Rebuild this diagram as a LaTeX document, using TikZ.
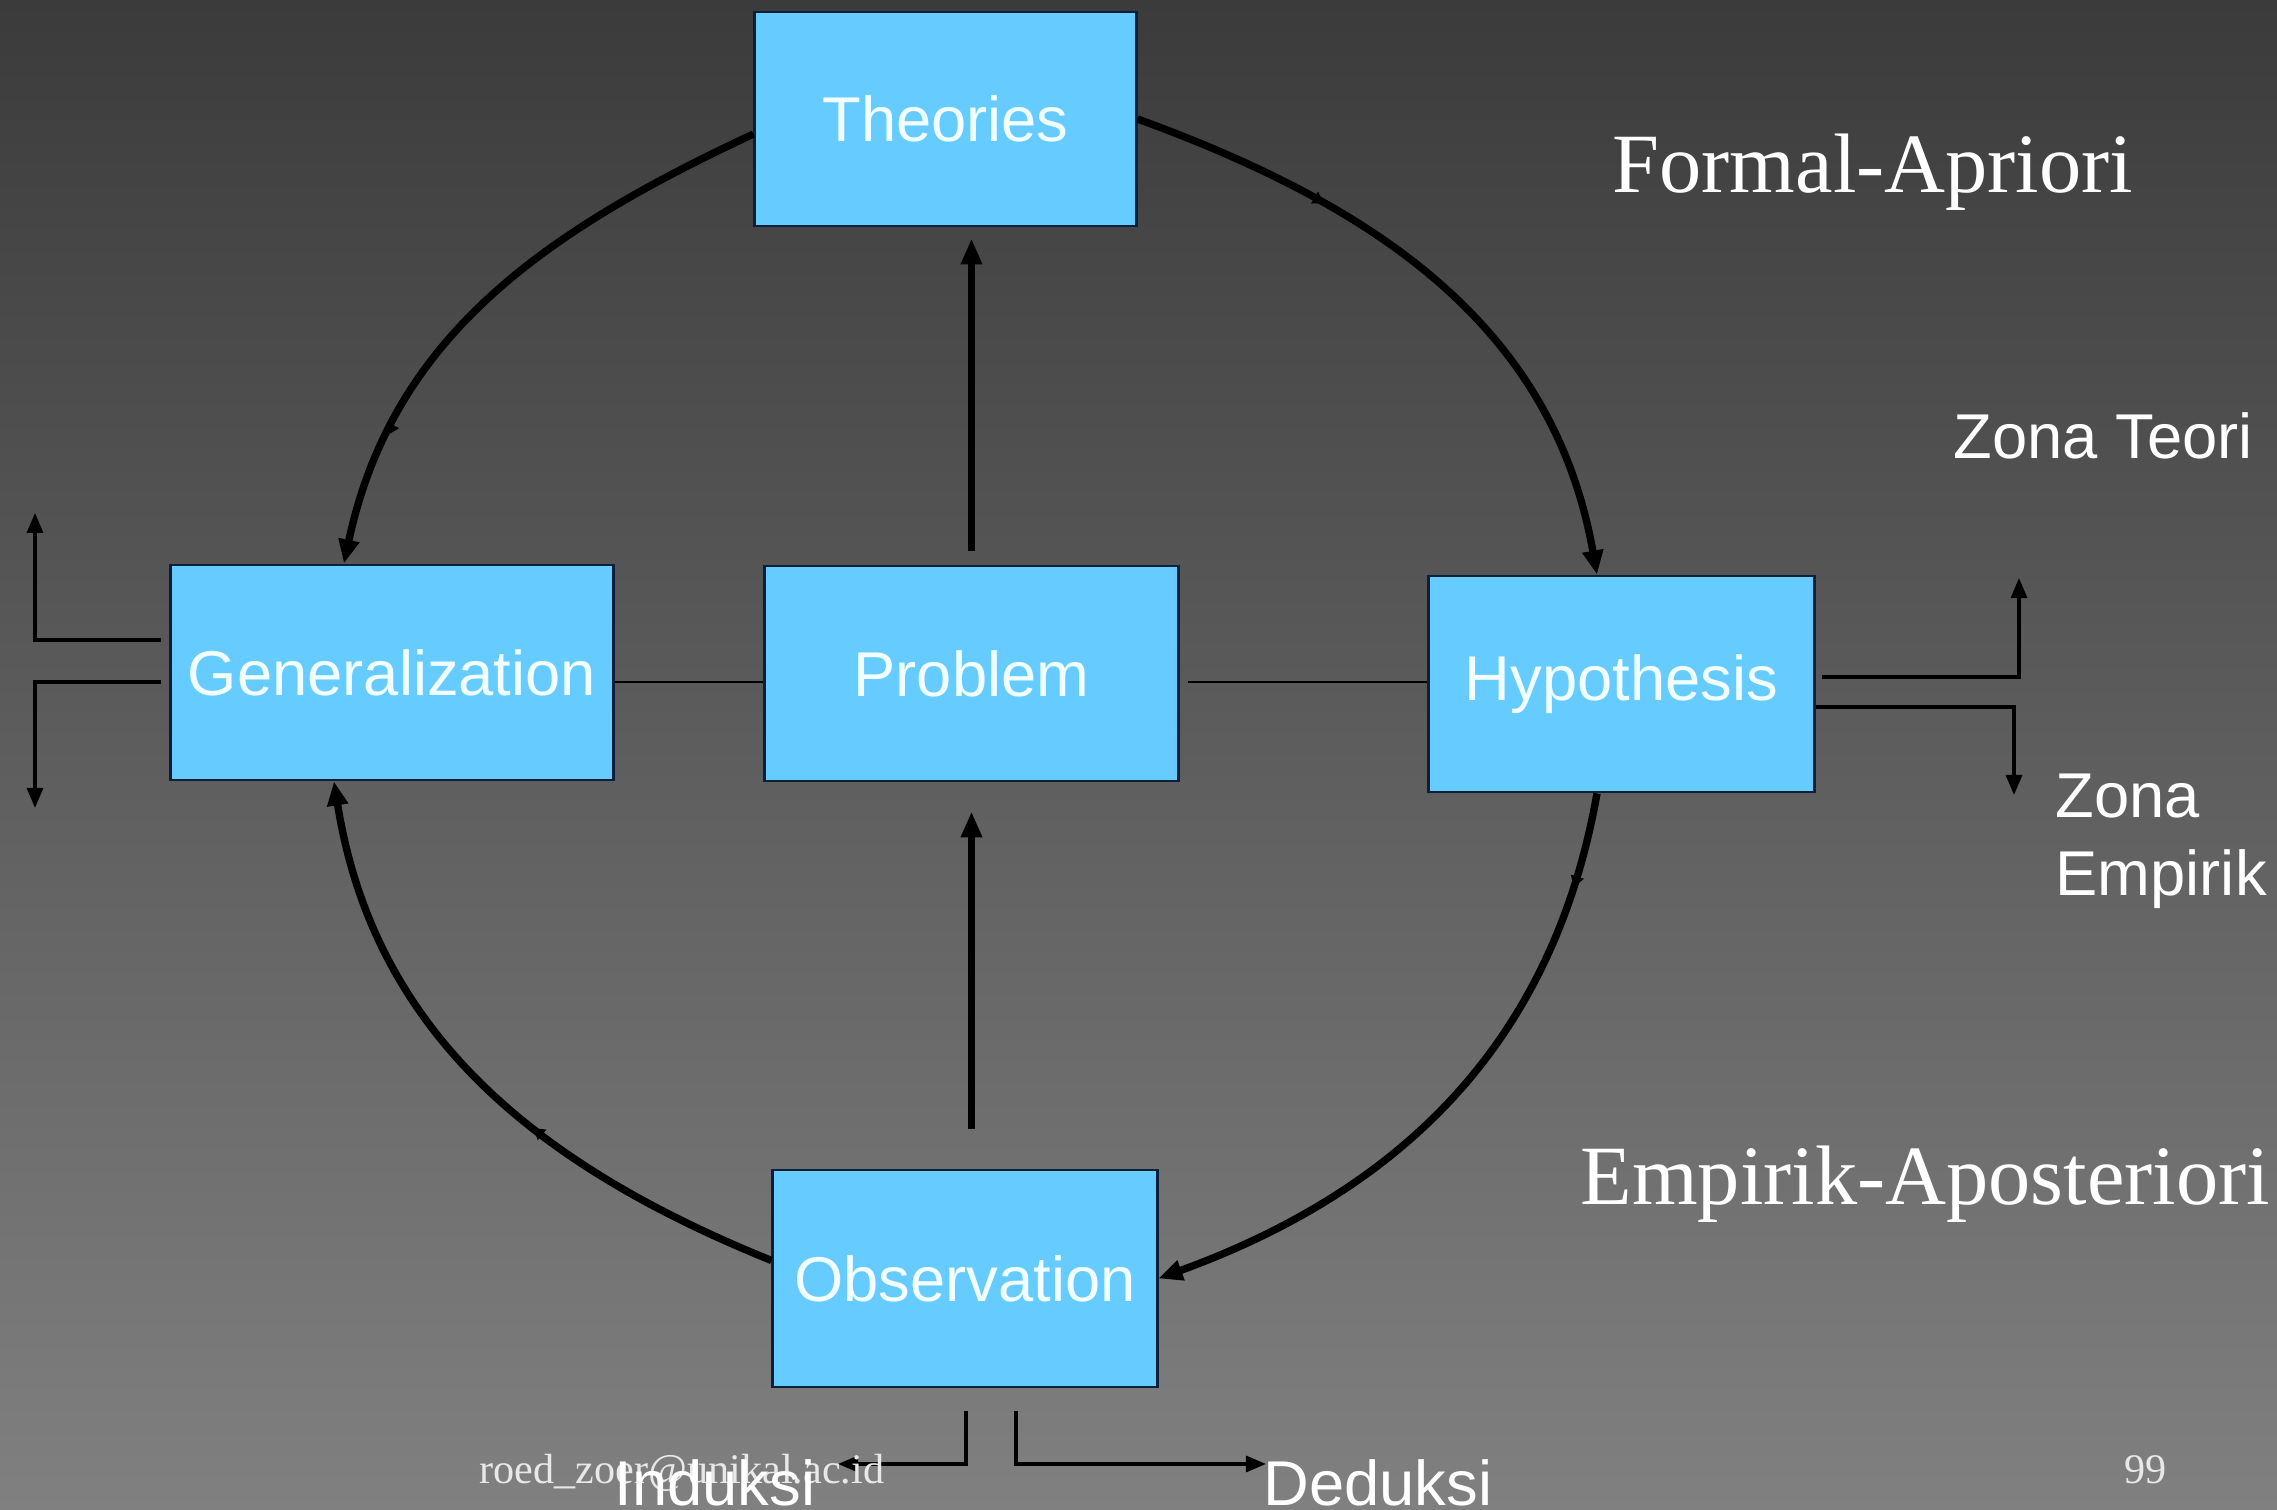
\documentclass[tikz,border=0pt]{standalone}
\usepackage{fontspec}
\setmainfont{Liberation Serif}
\setsansfont{Liberation Sans}
\usetikzlibrary{arrows.meta,decorations.markings,calc}

\definecolor{boxfill}{HTML}{66CCFF}
\definecolor{boxline}{HTML}{0B1F3A}
\definecolor{bgtop}{HTML}{3B3B3B}
\definecolor{bgbottom}{HTML}{808080}
\definecolor{marktext}{HTML}{E8E8E8}
\definecolor{boxtext}{HTML}{F2FFFF}

\begin{document}
\begin{tikzpicture}[x=0.01cm,y=0.01cm,
  box/.style={draw=boxline, line width=0.8pt, fill=boxfill, inner sep=0pt,
    text=boxtext, font=\sffamily\fontsize{18}{20}\selectfont},
  label/.style={inner sep=0pt, text=white, anchor=base west},
  sanslabel/.style={label, font=\sffamily\fontsize{18}{20}\selectfont},
  seriflabel/.style={label, font=\fontsize{24}{28}\selectfont},
  smalllabel/.style={inner sep=0pt, text=marktext, anchor=base west,
    font=\fontsize{12}{14}\selectfont},
  cycarrow/.style={line width=2.1pt, -{Triangle[length=0.24cm,width=0.2cm]}},
  midtip/.style={postaction={decorate}, decoration={markings,
    mark=at position #1 with {\arrow{Triangle[length=0.11cm,width=0.13cm]}}}},
  vertarrow/.style={line width=2.2pt, -{Triangle[length=0.26cm,width=0.2cm]}},
  zonearrow/.style={line width=0.9pt, -{Triangle[length=0.2cm,width=0.16cm]}},
  thinline/.style={line width=0.8pt},
]

% background with vertical grey gradient
\useasboundingbox (0,0) rectangle (2277,-1510);
\shade[top color=bgtop, bottom color=bgbottom] (0,0) rectangle (2277,-1510);

% the five stages
\node[box, minimum width=3.81cm, minimum height=2.14cm] (theo) at (945.5,-119) {Theories};
\node[box, minimum width=4.42cm, minimum height=2.15cm] (gen)  at (392,-672.5) {Generalization};
\node[box, minimum width=4.13cm, minimum height=2.15cm] (prob) at (971.5,-673.5) {Problem};
\node[box, minimum width=3.85cm, minimum height=2.16cm] (hyp)  at (1621.5,-684) {Hypothesis};
\node[box, minimum width=3.84cm, minimum height=2.17cm] (obs)  at (965,-1278.5) {Observation};

% the wheel
\draw[cycarrow, midtip=0.78] ([yshift=-0.15cm]theo.west) to[out=205,in=78] ([xshift=-0.48cm]gen.north);
\draw[cycarrow, midtip=0.3] (theo.east) to[out=-20,in=100] ([xshift=-0.245cm]hyp.north);
\draw[cycarrow, midtip=0.14] ([xshift=-0.245cm]hyp.south) to[out=-100,in=20] (obs.east);
\draw[cycarrow, midtip=0.4] ([yshift=0.18cm]obs.west) to[out=158,in=-81] ([xshift=-0.58cm]gen.south);

% central axis and vertical arrows
\coordinate (axis) at (0,-682);
\draw[thinline] (gen.east |- axis) -- (prob.west |- axis);
\draw[thinline] ($(prob.east |- axis)+(8,0)$) -- (hyp.west |- axis);
\draw[vertarrow] ($(prob.north)+(0,14)$) -- ($(prob.north |- theo.south)+(0,-11)$);
\draw[vertarrow] ($(prob.south |- obs.north)+(0,40)$) -- ($(prob.south)+(0,-29)$);

% zone arrows, left
\coordinate (gUcorner) at (35,-640);
\coordinate (gUtip) at (35,-513);
\coordinate (gDcorner) at (35,-682);
\coordinate (gDtip) at (35,-808);
\draw[zonearrow] ($(gen.west |- gUcorner)+(-8,0)$) -- (gUcorner) -- (gUtip);
\draw[zonearrow] ($(gen.west |- gDcorner)+(-8,0)$) -- (gDcorner) -- (gDtip);

% zone arrows, right
\coordinate (hUcorner) at (2019,-677);
\coordinate (hUtip) at (2019,-578);
\coordinate (hDcorner) at (2014,-707);
\coordinate (hDtip) at (2014,-795);
\draw[zonearrow] ($(hyp.east |- hUcorner)+(6,0)$) -- (hUcorner) -- (hUtip);
\draw[zonearrow] (hyp.east |- hDcorner) -- (hDcorner) -- (hDtip);

% induction / deduction arrows
\coordinate (iTop) at (966,-1411);
\coordinate (iCorner) at (966,-1464);
\coordinate (iTip) at (838,-1464);
\coordinate (dTop) at (1016,-1411);
\coordinate (dCorner) at (1016,-1464);
\coordinate (dTip) at (1266,-1464);
\draw[zonearrow] (iTop) -- (iCorner) -- (iTip);
\draw[zonearrow] (dTop) -- (dCorner) -- (dTip);

% footer
\node[smalllabel] (mail) at (479,-1484) {roed\_zoer@unikal.ac.id};
\node[smalllabel] (page) at (2124,-1484) {99};

% labels
\node[seriflabel] (fa) at (1612,-193) {Formal-Apriori};
\node[seriflabel] (ea) at (1580,-1205) {Empirik-Aposteriori};
\node[sanslabel] (zt) at (1953,-459) {Zona Teori};
\node[sanslabel] (ze1) at (2055,-818) {Zona};
\node[sanslabel] (ze2) at (2055,-896) {Empirik};
\node[sanslabel] (ind) at (614,-1506) {Induksi};
\node[sanslabel] (ded) at (1263,-1506) {Deduksi};

\end{tikzpicture}
\end{document}
